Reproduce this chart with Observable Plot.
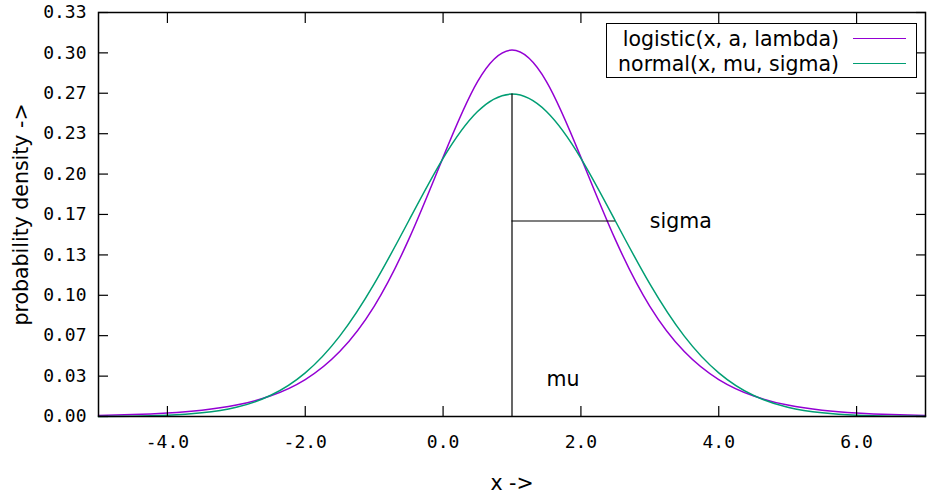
<!DOCTYPE html>
<html><head><meta charset="utf-8">
<script src="https://cdn.jsdelivr.net/npm/d3@7"></script>
<script src="https://cdn.jsdelivr.net/npm/@observablehq/plot@0.6"></script>
<style>
body{margin:0;background:#fff;}
#wrap{position:relative;width:927px;height:495px;}
#legend{position:absolute;left:606px;top:23px;width:309px;height:53px;border:1.3px solid #000;background:#fff;font-family:"DejaVu Sans";font-size:20.5px;}
.row{position:absolute;right:0;height:25px;display:flex;align-items:center;}
.row span{display:block;text-align:right;white-space:nowrap;}
.row i{display:block;width:53px;height:0;border-top:1.5px solid;margin-left:14px;margin-right:10px;}
</style>
</head><body>
<div id="wrap"><div id="chart"></div><div id="legend"></div></div>
<script>
const xValues = [-5,-4.5,-4,-3.5,-3,-2.5,-2,-1.5,-1,-0.5,0,0.5,1,1.5,2,2.5,3,3.5,4,4.5,5,5.5,6,6.5,7];
const logisticValues = [0.0009,0.0016,0.0029,0.0052,0.0094,0.0171,0.0305,0.0536,0.0909,0.1459,0.2138,0.2763,0.3023,0.2763,0.2138,0.1459,0.0909,0.0536,0.0305,0.0171,0.0094,0.0052,0.0029,0.0016,0.0009];
const normalValues = [0.0001,0.0003,0.0010,0.0030,0.0076,0.0175,0.0360,0.0663,0.1094,0.1613,0.2130,0.2516,0.2660,0.2516,0.2130,0.1613,0.1094,0.0663,0.0360,0.0175,0.0076,0.0030,0.0010,0.0003,0.0001];
const seriesNames = ["logistic(x, a, lambda)", "normal(x, mu, sigma)"];
const seriesColors = ["#9400d3", "#009e73"];
const xTicks = [-4, -2, 0, 2, 4, 6];
const yTicks = [0, 0.0333, 0.0667, 0.1, 0.1333, 0.1667, 0.2, 0.2333, 0.2667, 0.3, 0.3333];
const mu = 1, sigma = 1.5;
const normalPeak = 0.2660, normalAtSigma = 0.1613;
const annotations = [{x: 3.0, y: 0.1613, text: "sigma"}, {x: 1.5, y: 0.0305, text: "mu"}];

const logistic = xValues.map((x, i) => ({x, y: logisticValues[i]}));
const normal = xValues.map((x, i) => ({x, y: normalValues[i]}));
const mono = "DejaVu Sans Mono";
const sans = "DejaVu Sans";

const chart = Plot.plot({
  width: 927, height: 495,
  marginLeft: 98, marginRight: 2, marginTop: 12, marginBottom: 79,
  style: {fontFamily: sans, fontSize: "20.5px", background: "#fff", color: "#000"},
  x: {domain: [-5, 7]},
  y: {domain: [0, 0.3333]},
  marks: [
    Plot.line(logistic, {x: "x", y: "y", stroke: seriesColors[0], strokeWidth: 1.5, curve: "natural"}),
    Plot.line(normal, {x: "x", y: "y", stroke: seriesColors[1], strokeWidth: 1.5, curve: "natural"}),
    Plot.ruleX([mu], {y1: 0, y2: normalPeak, stroke: "#000", strokeWidth: 1.2}),
    Plot.ruleY([normalAtSigma], {x1: mu, x2: mu + sigma, stroke: "#000", strokeWidth: 1.2}),
    Plot.text(annotations, {x: "x", y: "y", text: "text", textAnchor: "start", fontSize: 20.5, fontFamily: sans}),
    Plot.frame({stroke: "#000", strokeWidth: 1.5}),
    // inward ticks
    Plot.axisY(yTicks, {anchor: "left", tickSize: 10, dx: 10, text: null, label: null, strokeWidth: 1.2}),
    Plot.axisY(yTicks, {anchor: "right", tickSize: 10, dx: -10, text: null, label: null, strokeWidth: 1.2}),
    Plot.axisX(xTicks, {anchor: "bottom", tickSize: 10, dy: -10, text: null, label: null, strokeWidth: 1.2}),
    Plot.axisX(xTicks, {anchor: "top", tickSize: 10, dy: 10, text: null, label: null, strokeWidth: 1.2}),
    // tick labels
    Plot.axisY(yTicks, {anchor: "left", tickSize: 0, tickPadding: 12, tickFormat: d => d.toFixed(2), fontFamily: mono, fontSize: 18, label: null}),
    Plot.axisX(xTicks, {anchor: "bottom", tickSize: 0, tickPadding: 19, tickFormat: d => d.toFixed(1), fontFamily: mono, fontSize: 18, label: null}),
    // axis titles
    Plot.axisY(yTicks, {anchor: "left", tickSize: 0, text: null, fontFamily: sans, fontSize: 20.5,
      label: "probability density ->", labelArrow: "none", labelAnchor: "center", labelOffset: 85}),
    Plot.axisX(xTicks, {anchor: "bottom", tickSize: 0, text: null, fontFamily: sans, fontSize: 20.5,
      label: "x ->", labelArrow: "none", labelAnchor: "center", labelOffset: 73})
  ]
});
document.getElementById("chart").appendChild(chart);

const legend = document.getElementById("legend");
seriesNames.forEach((name, i) => {
  const row = document.createElement("div");
  row.className = "row";
  row.style.top = (2 + i * 25) + "px";
  const s = document.createElement("span"); s.textContent = name;
  const l = document.createElement("i"); l.style.borderColor = seriesColors[i];
  row.appendChild(s); row.appendChild(l);
  legend.appendChild(row);
});
</script>
</body></html>
